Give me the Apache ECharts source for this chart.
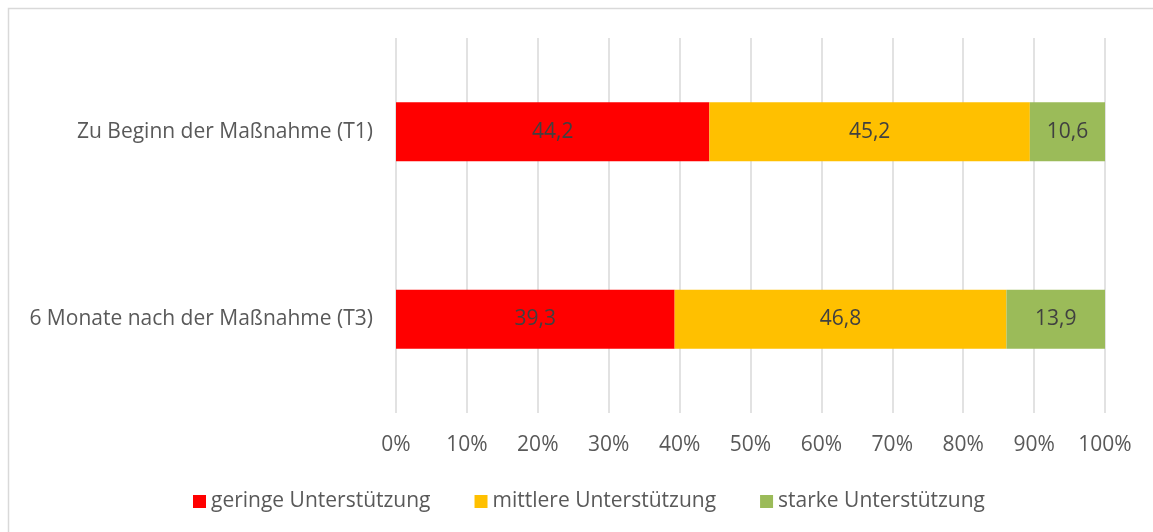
<!DOCTYPE html>
<html>
<head>
<meta charset="utf-8">
<script src="https://cdn.jsdelivr.net/npm/echarts@6/dist/echarts.min.js"></script>
<style>html,body{margin:0;padding:0;background:#fff;}#c{width:1153px;height:532px;}</style>
</head>
<body>
<div id="c"></div>
<script>
const categories = ['6 Monate nach der Maßnahme (T3)', 'Zu Beginn der Maßnahme (T1)'];
const seriesNames = ['geringe Unterstützung', 'mittlere Unterstützung', 'starke Unterstützung'];
const geringe = [39.3, 44.2];
const mittlere = [46.8, 45.2];
const starke = [13.9, 10.6];
const colors = ['#ff0000', '#ffc000', '#9bbb59'];

const FONT = '"Open Sans", Lato, sans-serif';
const FS = 21;
const chart = echarts.init(document.getElementById('c'), null, {renderer: 'canvas'});
const dataSets = [geringe, mittlere, starke];
chart.setOption({
  animation: false,
  textStyle: {fontFamily: FONT},
  graphic: [{
    type: 'rect', shape: {x: 8.5, y: 8.5, width: 1200, height: 600},
    style: {fill: 'none', stroke: '#d9d9d9', lineWidth: 1.5}, silent: true, z: -1
  }],
  grid: {left: 396, right: 48, top: 38, bottom: 119, containLabel: false},
  legend: {
    top: 486, left: 188, itemWidth: 13, itemHeight: 13, itemGap: 44,
    icon: 'rect',
    textStyle: {fontFamily: FONT, fontSize: FS, color: '#595959'},
    data: seriesNames
  },
  xAxis: {
    type: 'value', min: 0, max: 100, interval: 10,
    axisLine: {show: false}, axisTick: {show: false},
    splitLine: {show: true, lineStyle: {color: '#d9d9d9', width: 1.5}},
    axisLabel: {formatter: '{value}%', fontSize: FS, color: '#595959', margin: 22, fontFamily: FONT}
  },
  yAxis: {
    type: 'category', data: categories,
    axisLine: {show: false}, axisTick: {show: false},
    axisLabel: {fontSize: FS, color: '#595959', margin: 23, fontFamily: FONT}
  },
  series: seriesNames.map((n, i) => ({
    name: n, type: 'bar', stack: 'total', barWidth: 59,
    itemStyle: {color: colors[i]},
    label: {
      show: true, position: 'inside', fontSize: FS, color: '#404040', fontFamily: FONT,
      formatter: p => String(p.value).replace('.', ',')
    },
    data: dataSets[i]
  }))
});
</script>
</body>
</html>
